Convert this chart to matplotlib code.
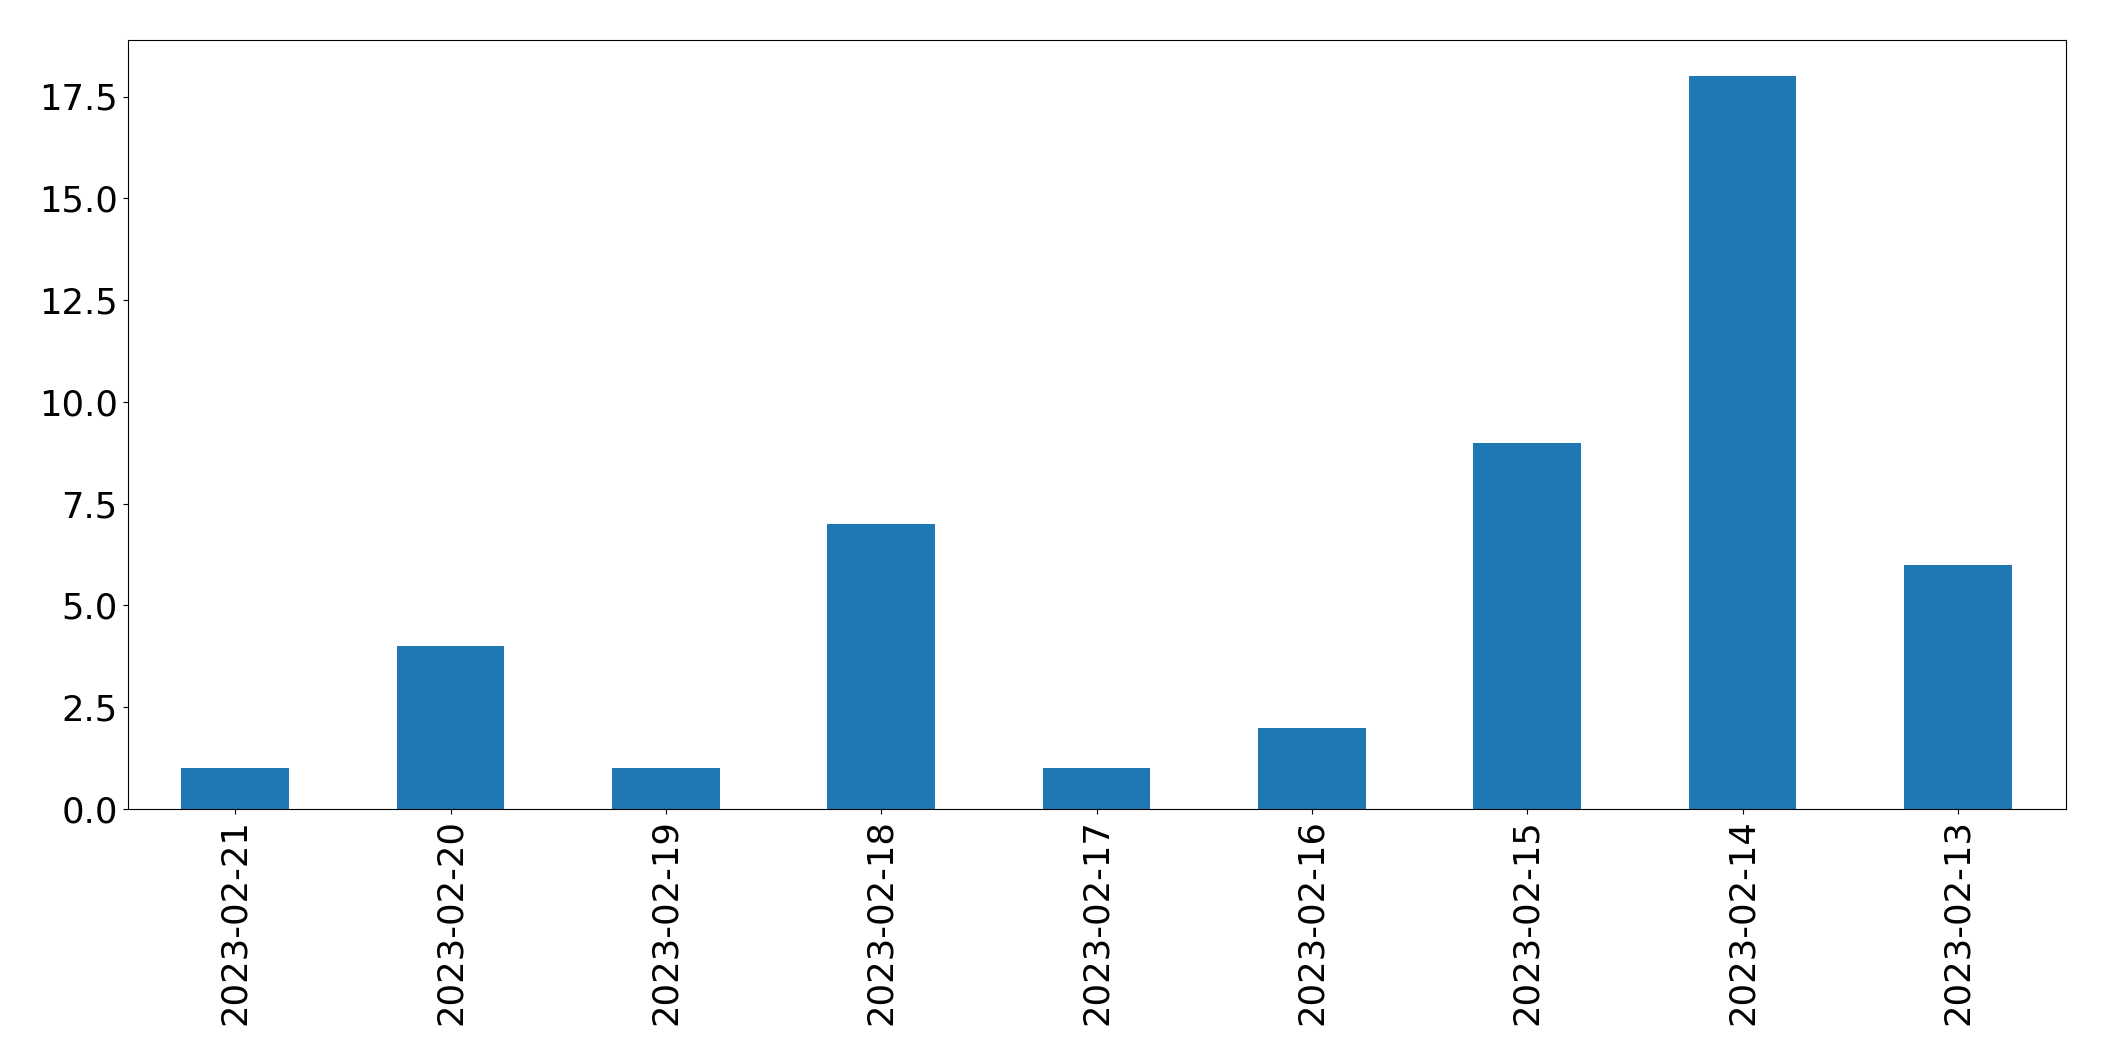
import pandas as pd
import matplotlib
matplotlib.use('Agg')
import matplotlib.pyplot as plt

# counts per day, newest first (as in the original value_counts-like order)
dates = ['2023-02-21', '2023-02-20', '2023-02-19', '2023-02-18', '2023-02-17',
         '2023-02-16', '2023-02-15', '2023-02-14', '2023-02-13']
counts = [1, 4, 1, 7, 1, 2, 9, 18, 6]

data = pd.Series(counts, index=dates)

fig = plt.figure(figsize=(21.04, 10.61), dpi=100)
ax = fig.add_axes([127.5 / 2104, 1 - 809 / 1061, (2065.5 - 127.5) / 2104, (809 - 39.5) / 1061])
data.plot(kind='bar', ax=ax, color='#1f77b4', fontsize=25.5)

plt.savefig('out.png', dpi=100)
